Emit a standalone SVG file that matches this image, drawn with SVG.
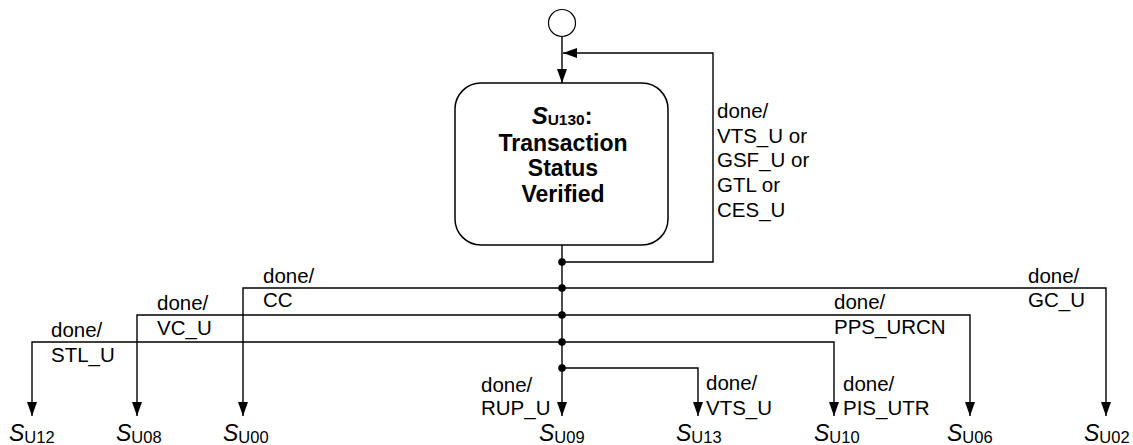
<svg xmlns="http://www.w3.org/2000/svg" width="1133" height="445" viewBox="0 0 1133 445">
<style>
.ln{fill:none;stroke:#000;stroke-width:1.4}
.lbl{font-family:"Liberation Sans",Arial,sans-serif;font-size:20.5px;fill:#000}
.st{font-family:"Liberation Sans",Arial,sans-serif;font-size:23px;fill:#000}
.sub{font-size:16.5px}
.box{fill:#fff;stroke:#000;stroke-width:1.5}
.ttl{font-family:"Liberation Sans",Arial,sans-serif;font-size:23px;font-weight:bold;fill:#000;text-anchor:middle}
</style>
<defs>
<marker id="ah" viewBox="0 0 14 10" refX="14" refY="5" markerWidth="14" markerHeight="10" markerUnits="userSpaceOnUse" orient="auto">
<path d="M0,0 L14,5 L0,10 z" fill="#000"/>
</marker>
</defs>
<rect width="1133" height="445" fill="#fff"/>
<g id="connectors">
<path class="ln" d="M562,36.5 V83" marker-end="url(#ah)"/>
<path class="ln" d="M562,262 H713 V53 H563" marker-end="url(#ah)"/>
<path class="ln" d="M562,245 V416" marker-end="url(#ah)"/>
<path class="ln" d="M562,288 H243 V416" marker-end="url(#ah)"/>
<path class="ln" d="M562,288 H1106 V416" marker-end="url(#ah)"/>
<path class="ln" d="M562,315 H137 V416" marker-end="url(#ah)"/>
<path class="ln" d="M562,315 H970 V416" marker-end="url(#ah)"/>
<path class="ln" d="M562,342 H32 V416" marker-end="url(#ah)"/>
<path class="ln" d="M562,342 H834 V416" marker-end="url(#ah)"/>
<path class="ln" d="M562,368 H698 V416" marker-end="url(#ah)"/>
<g fill="#000">
<circle cx="562" cy="262" r="3.8"/>
<circle cx="562" cy="288" r="3.8"/>
<circle cx="562" cy="315" r="3.8"/>
<circle cx="562" cy="342" r="3.8"/>
<circle cx="562" cy="368" r="3.8"/>
</g>
<g class="lbl">
<text x="717" y="118">done/</text>
<text x="717" y="143">VTS_U or</text>
<text x="717" y="167">GSF_U or</text>
<text x="717" y="192">GTL or</text>
<text x="717" y="217">CES_U</text>
<text x="263" y="283">done/</text>
<text x="263" y="307">CC</text>
<text x="157" y="310">done/</text>
<text x="157" y="335">VC_U</text>
<text x="51" y="337">done/</text>
<text x="51" y="362">STL_U</text>
<text x="1028" y="283">done/</text>
<text x="1028" y="307">GC_U</text>
<text x="834" y="309">done/</text>
<text x="834" y="334">PPS_URCN</text>
<text x="481" y="392">done/</text>
<text x="481" y="415">RUP_U</text>
<text x="706" y="390">done/</text>
<text x="706" y="415">VTS_U</text>
<text x="843" y="391">done/</text>
<text x="843" y="415">PIS_UTR</text>
</g>
</g>
<g id="initial"><circle cx="562" cy="23" r="13.5" fill="#fff" stroke="#000" stroke-width="1.2"/></g>
<g id="S_U130">
<rect class="box" x="455" y="83" width="213" height="162" rx="26"/>
<text class="ttl" x="562" y="124"><tspan font-style="italic" font-size="24">S</tspan><tspan font-size="15.5" dy="1">U130</tspan><tspan dy="-1">:</tspan></text>
<text class="ttl" x="563" y="151">Transaction</text>
<text class="ttl" x="563" y="176">Status</text>
<text class="ttl" x="563" y="202">Verified</text>
</g>
<g id="S_U12"><text class="st" x="9" y="441"><tspan font-style="italic">S</tspan><tspan class="sub" dy="2">U12</tspan></text></g>
<g id="S_U08"><text class="st" x="116" y="441"><tspan font-style="italic">S</tspan><tspan class="sub" dy="2">U08</tspan></text></g>
<g id="S_U00"><text class="st" x="223" y="441"><tspan font-style="italic">S</tspan><tspan class="sub" dy="2">U00</tspan></text></g>
<g id="S_U09"><text class="st" x="539" y="441"><tspan font-style="italic">S</tspan><tspan class="sub" dy="2">U09</tspan></text></g>
<g id="S_U13"><text class="st" x="676" y="441"><tspan font-style="italic">S</tspan><tspan class="sub" dy="2">U13</tspan></text></g>
<g id="S_U10"><text class="st" x="814" y="441"><tspan font-style="italic">S</tspan><tspan class="sub" dy="2">U10</tspan></text></g>
<g id="S_U06"><text class="st" x="947" y="441"><tspan font-style="italic">S</tspan><tspan class="sub" dy="2">U06</tspan></text></g>
<g id="S_U02"><text class="st" x="1084" y="441"><tspan font-style="italic">S</tspan><tspan class="sub" dy="2">U02</tspan></text></g>
</svg>
